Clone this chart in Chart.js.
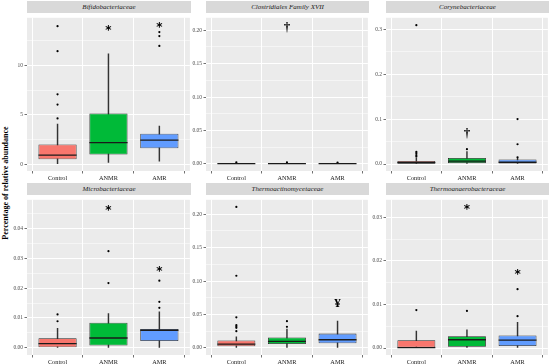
<!DOCTYPE html>
<html><head><meta charset="utf-8">
<script src="https://cdn.jsdelivr.net/npm/chart.js@4/dist/chart.umd.min.js"></script>
<style>
html,body{margin:0;padding:0;background:#fff;width:550px;height:364px;overflow:hidden;position:relative}
.strip{position:absolute;background:#D9D9D9;color:#1A1A1A;font:italic 7px "Liberation Serif",serif;text-align:center;line-height:12px;white-space:nowrap}
canvas{position:absolute}
.ytitle{position:absolute;font:bold 8px "Liberation Serif",serif;color:#000;white-space:nowrap;transform:translate(-50%,-50%) rotate(-90deg)}
</style></head><body>
<div class="ytitle" style="left:5px;top:183px">Percentage of relative abundance</div>
<script>
// ---------- data ----------
const groups = ['Control', 'ANMR', 'AMR'];
const groupColors = ['#F8766D', '#00BA38', '#619CFF'];
const panelTitles = ['Bifidobacteriaceae', 'Clostridiales Family XVII', 'Corynebacteriaceae',
                     'Microbacteriaceae', 'Thermoactinomycetaceae', 'Thermoanaerobacteraceae'];

// five-number boxes per group: [lower whisker, Q1, median, Q3, upper whisker]
const bifBoxes = [[0.0, 0.49, 0.91, 1.99, 4.06], [0.17, 0.97, 2.18, 5.13, 11.2], [0.3, 1.6, 2.43, 3.09, 3.87]];
const bifOutliers = [[4.64, 6.04, 7.08, 11.46, 14.0], [], [12.0, 13.0, 13.4]];
const bifMarks = ['', '*', '*'];
const bifMarkValues = [null, 13.8, 14.15];
const bifTicks = [0, 5, 10];
const bifTickLabels = ['0', '5', '10'];
const bifMinor = [2.5, 7.5, 12.5];

const cloBoxes = [[0, 0, 0.0005, 0.0015, 0.002], [0, 0, 0.0005, 0.0016, 0.002], [0, 0, 0.0004, 0.0012, 0.0018]];
const cloOutliers = [[0.0025], [0.0025], [0.002]];
const cloMarks = ['', '†', ''];
const cloMarkValues = [null, 0.204, null];
const cloTicks = [0, 0.05, 0.10, 0.15, 0.20];
const cloTickLabels = ['0.00', '0.05', '0.10', '0.15', '0.20'];
const cloMinor = [0.025, 0.075, 0.125, 0.175];

const corBoxes = [[0, 0.0007, 0.003, 0.007, 0.014], [0, 0.002, 0.0064, 0.0136, 0.028], [0, 0.001, 0.004, 0.010, 0.013]];
const corOutliers = [[0.017, 0.020, 0.024, 0.027, 0.309], [0.033], [0.015, 0.044, 0.10]];
const corMarks = ['', '†', ''];
const corMarkValues = [null, 0.069, null];
const corTicks = [0, 0.1, 0.2, 0.3];
const corTickLabels = ['0.0', '0.1', '0.2', '0.3'];
const corMinor = [0.05, 0.15, 0.25];

const micBoxes = [[0, 0.0, 0.0014, 0.0032, 0.0065], [0, 0.00075, 0.0033, 0.0084, 0.0115], [0, 0.0023, 0.0059, 0.0063, 0.0121]];
const micOutliers = [[0.0089, 0.0112], [0.0217, 0.0324], [0.0134, 0.0154, 0.0225]];
const micMarks = ['', '*', '*'];
const micMarkValues = [null, 0.047, 0.0265];
const micTicks = [0, 0.01, 0.02, 0.03, 0.04];
const micTickLabels = ['0.00', '0.01', '0.02', '0.03', '0.04'];
const micMinor = [0.005, 0.015, 0.025, 0.035, 0.045];

const thaBoxes = [[0, 0.0024, 0.0058, 0.0112, 0.0165], [0, 0.0058, 0.0097, 0.0156, 0.028], [0, 0.0068, 0.0122, 0.0214, 0.040]];
const thaOutliers = [[0.025, 0.030, 0.032, 0.034, 0.0457, 0.108, 0.211], [0.0316, 0.040], []];
const thaMarks = ['', '', '¥'];
const thaMarkValues = [null, null, 0.0676];
const thaTicks = [0, 0.05, 0.10, 0.15, 0.20];
const thaTickLabels = ['0.00', '0.05', '0.10', '0.15', '0.20'];
const thaMinor = [0.025, 0.075, 0.125, 0.175];

const theBoxes = [[0, 0, 0.0001, 0.0018, 0.0039], [0, 0.0003, 0.0019, 0.0027, 0.0042], [0, 0.00045, 0.0018, 0.0029, 0.0059]];
const theOutliers = [[0.0087], [0.0085], [0.0073, 0.0135]];
const theMarks = ['', '*', '*'];
const theMarkValues = [null, 0.0324, 0.0174];
const theTicks = [0, 0.01, 0.02, 0.03];
const theTickLabels = ['0.00', '0.01', '0.02', '0.03'];
const theMinor = [0.005, 0.015, 0.025];

// ---------- layout (not data) ----------
const cols = [[27, 191], [206, 369], [386, 549]];
const rows = [[13, 171, 1], [195, 355, 183]];
const yRanges = [[-0.7, 14.85], [-0.0105, 0.2185], [-0.0155, 0.3255],
                 [-0.0024, 0.0496], [-0.0106, 0.2216], [-0.0016, 0.034]];
const YW = 22, XH = 12;

const panels = [
  [bifBoxes, bifOutliers, bifMarks, bifMarkValues, bifTicks, bifTickLabels, bifMinor],
  [cloBoxes, cloOutliers, cloMarks, cloMarkValues, cloTicks, cloTickLabels, cloMinor],
  [corBoxes, corOutliers, corMarks, corMarkValues, corTicks, corTickLabels, corMinor],
  [micBoxes, micOutliers, micMarks, micMarkValues, micTicks, micTickLabels, micMinor],
  [thaBoxes, thaOutliers, thaMarks, thaMarkValues, thaTicks, thaTickLabels, thaMinor],
  [theBoxes, theOutliers, theMarks, theMarkValues, theTicks, theTickLabels, theMinor]
];

const boxPlugin = {
  id: 'boxExtras',
  beforeDraw(chart) {
    const a = chart.chartArea, c = chart.ctx;
    c.save(); c.fillStyle = '#EBEBEB'; c.fillRect(a.left, a.top, a.right - a.left, a.bottom - a.top); c.restore();
  },
  afterDatasetsDraw(chart) {
    const o = chart.options.plugins.boxExtras;
    const c = chart.ctx, xs = chart.scales.x, ys = chart.scales.y;
    const meta = chart.getDatasetMeta(1);
    c.save();
    o.boxes.forEach((b, i) => {
      const el = meta.data[i];
      const half = el.width / 2;
      const y = ys.getPixelForValue(b[2]);
      c.strokeStyle = '#1A1A1A'; c.lineWidth = 1.3;
      c.beginPath(); c.moveTo(el.x - half, y); c.lineTo(el.x + half, y); c.stroke();
    });
    o.marks.forEach((m, i) => {
      if (!m) return;
      const x = xs.getPixelForValue(i + 1), y = ys.getPixelForValue(o.markValues[i]);
      c.fillStyle = '#000';
      c.font = m === '*' ? 'bold 12px "DejaVu Sans"' : 'bold 13px "Liberation Serif"';
      c.textAlign = 'center'; c.textBaseline = 'alphabetic';
      const mt = c.measureText(m);
      const off = (mt.actualBoundingBoxAscent - mt.actualBoundingBoxDescent) / 2;
      c.fillText(m, x, y + off);
    });
    c.restore();
  }
};

panels.forEach((p, idx) => {
  const [boxes, outs, marks, markValues, ticks, tickLabels, minor] = p;
  const col = cols[idx % 3], row = rows[Math.floor(idx / 3)];
  const L = col[0], R = col[1], T = row[0], B = row[1];

  const strip = document.createElement('div');
  strip.className = 'strip';
  strip.style.left = L + 'px'; strip.style.width = (R - L) + 'px';
  strip.style.top = row[2] + 'px'; strip.style.height = (T - row[2]) + 'px';
  strip.style.lineHeight = (T - row[2]) + 'px';
  strip.textContent = panelTitles[idx];
  document.body.appendChild(strip);

  const cv = document.createElement('canvas');
  const left = L - YW, w = R - left, h = B - T + XH;
  cv.width = w; cv.height = h;
  cv.style.left = left + 'px'; cv.style.top = T + 'px';
  cv.style.width = w + 'px'; cv.style.height = h + 'px';
  document.body.appendChild(cv);

  const yAll = ticks.concat(minor).sort((a, b) => a - b);
  const isMajor = v => ticks.indexOf(v) >= 0;
  const outPts = [];
  outs.forEach((arr, i) => arr.forEach(v => outPts.push({ x: i + 1, y: v })));

  new Chart(cv, {
    type: 'bar',
    data: {
      datasets: [
        { type: 'bar', label: 'whisker', data: boxes.map((b, i) => ({ x: i + 1, y: [b[0], b[4]] })),
          backgroundColor: '#333333', barThickness: 0.8, grouped: false, order: 3 },
        { type: 'bar', label: 'box', data: boxes.map((b, i) => ({ x: i + 1, y: [b[1], b[3]] })),
          backgroundColor: groupColors, borderColor: '#262626', borderWidth: 0.8, borderSkipped: false,
          barPercentage: 0.75, categoryPercentage: 1, grouped: false, order: 2 },
        { type: 'scatter', label: 'outliers', data: outPts, pointRadius: 1.1, pointHoverRadius: 1.1,
          backgroundColor: '#000000', borderWidth: 0, order: 1 }
      ]
    },
    options: {
      responsive: false, animation: false, devicePixelRatio: 1,
      layout: { padding: 0 },
      plugins: { legend: { display: false }, tooltip: { enabled: false },
        boxExtras: { boxes, marks, markValues } },
      scales: {
        x: {
          type: 'linear', min: 0.4, max: 3.6, offset: false,
          afterBuildTicks: s => { s.ticks = [1, 2, 3].map(v => ({ value: v })); },
          afterFit: s => { s.height = XH; },
          ticks: { callback: v => groups[v - 1] || '', padding: 1, autoSkip: false, maxRotation: 0,
            font: { family: 'Liberation Serif', size: 6.3 }, color: '#1A1A1A' },
          grid: { color: '#FFFFFF', lineWidth: 1, tickLength: 2.5, tickColor: '#333333', tickWidth: 0.7 },
          border: { display: false }
        },
        y: {
          type: 'linear', min: yRanges[idx][0], max: yRanges[idx][1],
          afterBuildTicks: s => { s.ticks = yAll.map(v => ({ value: v })); },
          afterFit: s => { s.width = YW; },
          ticks: { callback: v => { const k = ticks.indexOf(v); return k >= 0 ? tickLabels[k] : ''; },
            padding: 1.5, autoSkip: false, font: { family: 'Liberation Serif', size: 5.5 }, color: '#4D4D4D' },
          grid: { color: '#FFFFFF',
            lineWidth: ctx => (ctx.tick && isMajor(ctx.tick.value)) ? 1 : 0.5,
            tickLength: 2.5,
            tickColor: ctx => (ctx.tick && isMajor(ctx.tick.value)) ? '#333333' : 'rgba(0,0,0,0)',
            tickWidth: 0.7 },
          border: { display: false }
        }
      }
    },
    plugins: [boxPlugin]
  });
});
</script>
</body></html>
